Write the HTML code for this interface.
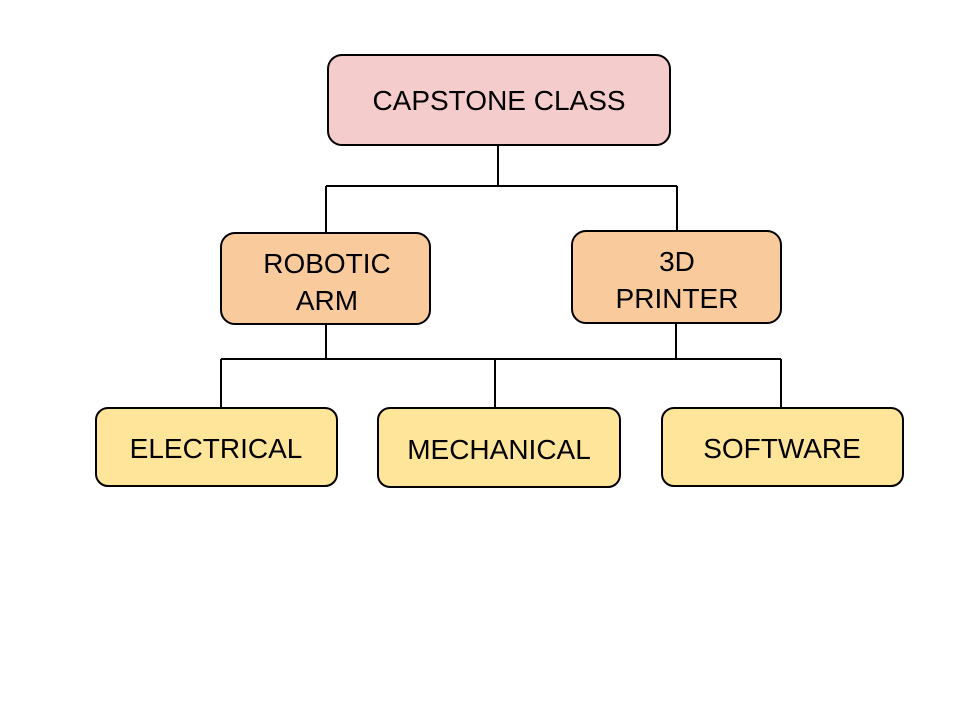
<!DOCTYPE html>
<html><head><meta charset="utf-8"><style>html,body{margin:0;padding:0;background:#fff}svg{display:block}</style></head>
<body>
<svg width="960" height="720" viewBox="0 0 960 720" xmlns="http://www.w3.org/2000/svg" font-family="Liberation Sans, Arial, sans-serif" font-size="28" text-anchor="middle">
<g stroke="#000" stroke-width="2" fill="none">
<path d="M498 145V186M326 186H677M326 186V233M677 186V231"/>
<path d="M326 324V359M676 323V359M221 359H781M221 359V408M495 359V408M781 359V408"/>
</g>
<g stroke="#000" stroke-width="2">
<rect x="328" y="55" width="342" height="90" rx="14" fill="#f4cccc"/>
<rect x="221" y="233" width="209" height="91" rx="14" fill="#f9cb9c"/>
<rect x="572" y="231" width="209" height="92" rx="14" fill="#f9cb9c"/>
<rect x="96" y="408" width="241" height="78" rx="12" fill="#ffe599"/>
<rect x="378" y="408" width="242" height="79" rx="12" fill="#ffe599"/>
<rect x="662" y="408" width="241" height="78" rx="12" fill="#ffe599"/>
</g>
<g fill="#000">
<text x="499" y="110">CAPSTONE CLASS</text>
<text x="327" y="273">ROBOTIC</text>
<text x="327" y="310">ARM</text>
<text x="677" y="271">3D</text>
<text x="677" y="308">PRINTER</text>
<text x="216" y="458">ELECTRICAL</text>
<text x="499" y="459">MECHANICAL</text>
<text x="782" y="458">SOFTWARE</text>
</g>
</svg>
</body></html>
